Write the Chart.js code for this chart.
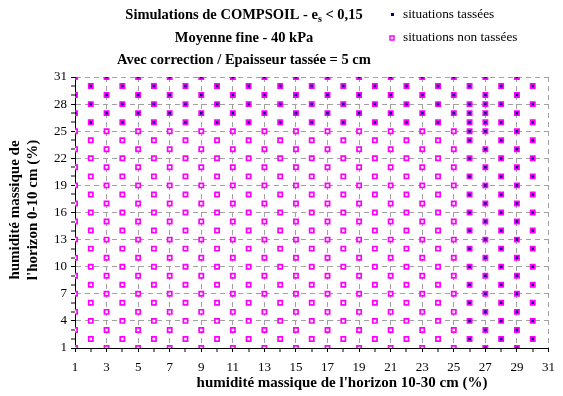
<!DOCTYPE html>
<html>
<head>
<meta charset="utf-8">
<script src="https://cdn.jsdelivr.net/npm/chart.js@4/dist/chart.umd.min.js"></script>
<style>
  html, body { margin: 0; padding: 0; background: #fff; }
</style>
</head>
<body>
<canvas id="chart" width="563" height="396"></canvas>
<script>
// moisture grid (%): odd columns carry odd rows, even columns even rows
const xCols = [1,2,3,4,5,6,7,8,9,10,11,12,13,14,15,16,17,18,19,20,21,22,23,24,25,26,27,28,29,30];
const yOddRows = [1,3,5,7,9,11,13,15,17,19,21,23,25,27,29,31];
const yEvenRows = [2,4,6,8,10,12,14,16,18,20,22,24,26,28,30];
// compacted from this column / row onwards
const tasseeFromX = 26;
const tasseeFromY = 26;
const extraTassees = [[26,25],[26,27],[27,26],[27,28]];

const xTicks = [1,3,5,7,9,11,13,15,17,19,21,23,25,27,29,31];
const yTicks = [1,4,7,10,13,16,19,22,25,28,31];

const seriesNames = ['situations tassées', 'situations non tassées'];
const titleLines = ['Simulations de COMPSOIL - e', 'Moyenne fine - 40 kPa', 'Avec correction / Epaisseur tassée = 5 cm'];
const xTitle = "humidité massique de l'horizon 10-30 cm (%)";
const yTitle = ['humidité massique de', "l'horizon 0-10 cm (%)"];

const NAVY = '#000080';
const MAGENTA = '#ff00ff';
const SERIF = '"Liberation Serif", "Times New Roman", serif';

// split grid into the two series
const tassees = [];
const nonTassees = [];
xCols.forEach(x => {
  const rows = x % 2 ? yOddRows : yEvenRows;
  rows.forEach(y => {
    if (x >= tasseeFromX || y >= tasseeFromY) tassees.push({x, y});
    else nonTassees.push({x, y});
  });
});
extraTassees.forEach(([x, y]) => tassees.push({x, y}));

// title with subscript, legend and axis titles, drawn by hand to match the layout
const decorPlugin = {
  id: 'decor',
  afterDraw(chart) {
    const ctx = chart.ctx;
    ctx.save();
    ctx.fillStyle = '#000';
    ctx.textBaseline = 'middle';
    const cx = 244;
    const big = 'bold 14.5px ' + SERIF;
    const sub = 'bold 10px ' + SERIF;
    ctx.font = big;
    const p1 = titleLines[0], p3 = ' < 0,15';
    const w1 = ctx.measureText(p1).width;
    const w3 = ctx.measureText(p3).width;
    ctx.font = sub;
    const w2 = ctx.measureText('s').width;
    const x0 = cx - (w1 + w2 + w3) / 2;
    ctx.textAlign = 'left';
    ctx.font = big;
    ctx.fillText(p1, x0, 15);
    ctx.font = sub;
    ctx.fillText('s', x0 + w1, 19);
    ctx.font = big;
    ctx.fillText(p3, x0 + w1 + w2, 15);
    ctx.textAlign = 'center';
    ctx.fillText(titleLines[1], cx, 38);
    ctx.fillText(titleLines[2], cx, 60);

    // legend
    ctx.textAlign = 'left';
    ctx.font = '13.3px ' + SERIF;
    ctx.fillStyle = NAVY;
    ctx.fillRect(391, 13, 3, 3);
    ctx.strokeStyle = MAGENTA;
    ctx.lineWidth = 1.5;
    ctx.strokeRect(390, 36, 4, 4);
    ctx.fillStyle = '#000';
    ctx.fillText(seriesNames[0], 403, 15);
    ctx.fillText(seriesNames[1], 403, 38);

    // axis titles
    ctx.font = 'bold 15px ' + SERIF;
    ctx.textAlign = 'center';
    ctx.fillText(xTitle, 342, 383);
    ctx.translate(0, 210);
    ctx.rotate(-Math.PI / 2);
    ctx.fillText(yTitle[0], 0, 15);
    ctx.fillText(yTitle[1], 0, 33);
    ctx.restore();
  }
};

const tickFont = { family: SERIF, size: 13 };

new Chart(document.getElementById('chart'), {
  type: 'scatter',
  data: {
    datasets: [
      {
        label: seriesNames[1],
        data: nonTassees,
        pointStyle: 'rect',
        pointRadius: 3,
        pointHoverRadius: 3,
        pointBorderWidth: 1.7,
        borderColor: MAGENTA,
        backgroundColor: '#fff'
      },
      {
        label: seriesNames[0],
        data: tassees,
        pointStyle: 'rect',
        pointRadius: 3,
        pointHoverRadius: 3,
        pointBorderWidth: 1.7,
        borderColor: MAGENTA,
        backgroundColor: NAVY
      }
    ]
  },
  options: {
    responsive: false,
    animation: false,
    layout: { padding: { top: 77, right: 10, left: 0, bottom: 0 } },
    plugins: {
      legend: { display: false },
      title: { display: false },
      tooltip: { enabled: false }
    },
    scales: {
      x: {
        type: 'linear',
        min: 1,
        max: 31,
        afterFit: s => { s.height = 48; },
        ticks: {
          stepSize: 1,
          autoSkip: false,
          maxRotation: 0,
          padding: 8,
          color: '#000',
          font: tickFont,
          callback: v => xTicks.includes(v) ? v : ''
        },
        grid: {
          color: '#a0a0a0',
          lineWidth: c => (c.tick && xTicks.includes(c.tick.value)) ? 1 : 0,
          tickWidth: 1,
          tickColor: '#000',
          tickLength: 4
        },
        border: { color: '#000', width: 1, dash: [5, 4] }
      },
      y: {
        type: 'linear',
        min: 1,
        max: 31,
        afterFit: s => { s.width = 75; },
        ticks: {
          stepSize: 1,
          autoSkip: false,
          padding: 4,
          color: '#000',
          font: tickFont,
          callback: v => yTicks.includes(v) ? v : ''
        },
        grid: {
          color: '#a0a0a0',
          lineWidth: c => (c.tick && yTicks.includes(c.tick.value)) ? 1 : 0,
          tickWidth: 1,
          tickColor: '#000',
          tickLength: 4
        },
        border: { color: '#000', width: 1, dash: [5, 4] }
      }
    }
  },
  plugins: [decorPlugin]
});
</script>
</body>
</html>
